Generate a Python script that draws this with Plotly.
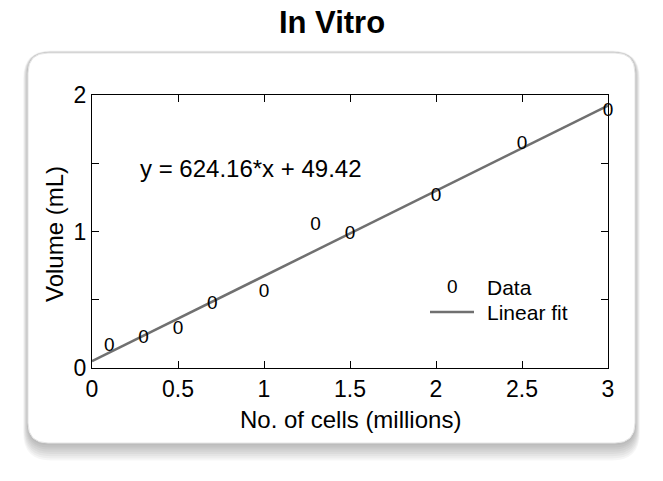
import plotly.graph_objects as go

# =============================
# DATA
# =============================
cells_millions = [0.1, 0.3, 0.5, 0.7, 1.0, 1.3, 1.5, 2.0, 2.5, 3.0]
volume_ml = [0.156, 0.217, 0.283, 0.467, 0.552, 1.048, 0.982, 1.255, 1.639, 1.883]

fit_slope = 624.16      # uL per million cells
fit_intercept = 49.42   # uL
fit_x = [0, 3]
fit_y = [(fit_slope * x + fit_intercept) / 1000 for x in fit_x]

y_tickvals = [0, 0.5, 1, 1.5, 2]
y_ticktext = ["0", "", "1", "", "2"]
x_tickvals = [0, 0.5, 1, 1.5, 2, 2.5, 3]
x_ticktext = ["0", "0.5", "1", "1.5", "2", "2.5", "3"]

FONT = "Liberation Sans, Arial, sans-serif"
GRAY = "#707070"

# body margin is removed in the page, so figure pixels = screen pixels
W, H = 663, 481
L, R, T, B = 92, 608, 95, 368


def px(x):
    return (x - L) / (R - L)


def py(y):
    return (B - y) / (B - T)


def rounded(x0, y0, x1, y1, r):
    rx, ry = r / (R - L), r / (B - T)
    X0, X1, Y0, Y1 = px(x0), px(x1), py(y1), py(y0)
    return (
        f"M {X0 + rx},{Y1} L {X1 - rx},{Y1} Q {X1},{Y1} {X1},{Y1 - ry} "
        f"L {X1},{Y0 + ry} Q {X1},{Y0} {X1 - rx},{Y0} "
        f"L {X0 + rx},{Y0} Q {X0},{Y0} {X0},{Y0 + ry} "
        f"L {X0},{Y1 - ry} Q {X0},{Y1} {X0 + rx},{Y1} Z"
    )


# =============================
# FIGURE
# =============================
fig = go.Figure()

fig.add_trace(go.Scatter(
    x=fit_x, y=fit_y, mode="lines",
    line=dict(color=GRAY, width=2.5),
    showlegend=False, hoverinfo="skip", cliponaxis=False,
))

fig.add_trace(go.Scatter(
    x=cells_millions, y=volume_ml, mode="text",
    text=["0"] * len(cells_millions),
    textposition="middle center",
    textfont=dict(family=FONT, size=19, color="black"),
    showlegend=False, cliponaxis=False,
))

# panel with soft shadow
shapes = []
for i in range(8, 0, -1):
    shapes.append(dict(
        type="path", xref="paper", yref="paper", layer="below",
        path=rounded(28 - i * 0.6, 53 - i * 0.3, 635 + i * 0.6, 443 + i * 2.2, 20 + i),
        fillcolor="rgba(0,0,0,0.035)", line=dict(width=0),
    ))
shapes.append(dict(
    type="path", xref="paper", yref="paper", layer="below",
    path=rounded(28, 53, 635, 443, 20),
    fillcolor="white", line=dict(color="#e4e4e4", width=1),
))
# legend line sample
shapes.append(dict(
    type="line", xref="paper", yref="paper",
    x0=px(430), x1=px(474), y0=py(312), y1=py(312),
    line=dict(color=GRAY, width=2.5),
))

annotations = [
    dict(text="y = 624.16*x + 49.42", x=px(138), y=py(168), xref="paper", yref="paper",
         xanchor="left", yanchor="middle", showarrow=False,
         font=dict(family=FONT, size=24, color="black")),
    dict(text="0", x=px(452), y=py(286), xref="paper", yref="paper",
         xanchor="center", yanchor="middle", showarrow=False,
         font=dict(family=FONT, size=19, color="black")),
    dict(text="Data", x=px(485), y=py(287), xref="paper", yref="paper",
         xanchor="left", yanchor="middle", showarrow=False,
         font=dict(family=FONT, size=21, color="black")),
    dict(text="Linear fit", x=px(485), y=py(312), xref="paper", yref="paper",
         xanchor="left", yanchor="middle", showarrow=False,
         font=dict(family=FONT, size=21, color="black")),
    dict(text="No. of cells (millions)", x=px(350), y=py(419), xref="paper", yref="paper",
         xanchor="center", yanchor="middle", showarrow=False,
         font=dict(family=FONT, size=24, color="black")),
    dict(text="Volume (mL)", x=px(54), y=py(234), xref="paper", yref="paper",
         xanchor="center", yanchor="middle", showarrow=False, textangle=-90,
         font=dict(family=FONT, size=24, color="black")),
]

fig.update_layout(
    width=W, height=H,
    margin=dict(l=L, r=W - R, t=T, b=H - B, pad=0),
    paper_bgcolor="white",
    plot_bgcolor="rgba(0,0,0,0)",
    title=dict(text="<b>In Vitro</b>", x=px(332), xref="paper", xanchor="center",
               y=1 - 22 / H, yref="container", yanchor="middle",
               font=dict(family=FONT, size=31, color="black")),
    shapes=shapes,
    annotations=annotations,
    showlegend=False,
)

fig.update_xaxes(
    range=[0, 3], tickvals=x_tickvals, ticktext=x_ticktext,
    showline=True, linecolor="black", linewidth=1, mirror="ticks",
    ticks="inside", ticklen=7, tickcolor="black",
    showgrid=False, zeroline=False,
    tickfont=dict(family=FONT, size=23, color="black"),
)
fig.update_yaxes(
    range=[0, 2], tickvals=y_tickvals, ticktext=y_ticktext,
    showline=True, linecolor="black", linewidth=1, mirror="ticks",
    ticks="inside", ticklen=7, tickcolor="black",
    showgrid=False, zeroline=False,
    tickfont=dict(family=FONT, size=23, color="black"),
)

fig.write_html(
    "out.html",
    config={"displayModeBar": False},
    post_script="document.body.style.margin = '0';",
)
